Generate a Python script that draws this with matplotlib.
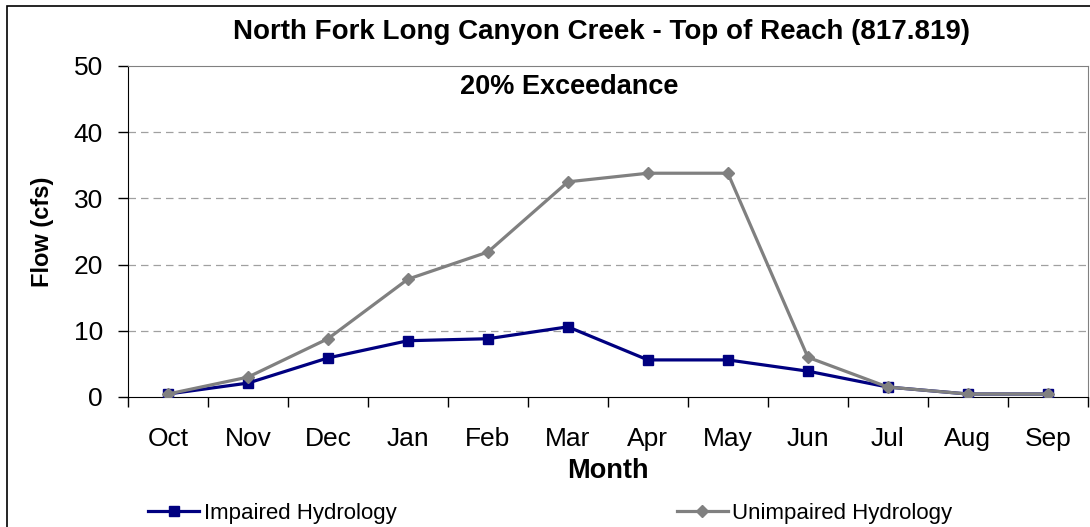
import matplotlib.pyplot as plt
from matplotlib.patches import Rectangle
import numpy as np

plt.rcParams['font.family'] = ['Liberation Sans', 'DejaVu Sans']

months = ['Oct', 'Nov', 'Dec', 'Jan', 'Feb', 'Mar', 'Apr', 'May', 'Jun', 'Jul', 'Aug', 'Sep']
impaired = [0.45, 2.1, 5.9, 8.5, 8.8, 10.6, 5.6, 5.6, 3.9, 1.5, 0.45, 0.45]
unimpaired = [0.45, 3.0, 8.8, 17.8, 21.9, 32.5, 33.8, 33.8, 6.0, 1.5, 0.45, 0.45]

fig = plt.figure(figsize=(10.9, 5.27), dpi=100)
ax = fig.add_axes([0.1174, 0.2467, 0.8806, 0.6281])

x = np.arange(len(months))
ax.plot(x, impaired, color='#000080', lw=2.3, marker='s', ms=7.5, label='Impaired Hydrology', zorder=3)
ax.plot(x, unimpaired, color='#808080', lw=2.3, marker='D', ms=6.5, label='Unimpaired Hydrology', zorder=4)

ax.set_xlim(-0.5, len(months) - 0.5)
ax.set_ylim(0, 50)
ax.set_yticks([0, 10, 20, 30, 40, 50])
ax.set_xticks(x)
ax.set_xticklabels(months)
ax.set_xticks(np.arange(-0.5, len(months), 1), minor=True)
ax.tick_params(axis='x', which='major', length=0, labelsize=19, pad=21.5)
ax.tick_params(axis='x', which='minor', length=7, width=1, direction='out')
ax.tick_params(axis='y', length=7, width=1, labelsize=19, pad=11)

for v in [10, 20, 30, 40]:
    ax.axhline(v, color='#a0a0a0', lw=0.9, ls=(0, (6, 4)), zorder=1)

ax.spines['left'].set_color('black')
ax.spines['bottom'].set_color('black')
ax.spines['top'].set_color('#808080')
ax.spines['right'].set_color('#808080')

ax.set_xlabel('Month', fontsize=19.5, fontweight='bold', labelpad=5)
ax.set_ylabel('Flow (cfs)', fontsize=17, fontweight='bold', labelpad=14)
ax.text(0.46, 0.935, '20% Exceedance', transform=ax.transAxes, ha='center', va='center',
        fontsize=19.5, fontweight='bold')
fig.text(0.552, 0.94, 'North Fork Long Canyon Creek - Top of Reach (817.819)',
         ha='center', va='center', fontsize=20, fontweight='bold')

fig.legend(loc='center left', bbox_to_anchor=(0.136, 0.026), ncol=2, frameon=False,
           fontsize=16, handlelength=2.3, columnspacing=12.6, handletextpad=0.2,
           borderpad=0, borderaxespad=0)

fig.patches.append(Rectangle((0.0065, -0.01), 1.1, 0.999, transform=fig.transFigure,
                             fill=False, edgecolor='black', lw=1.2))

fig.savefig('out.png', dpi=100)
